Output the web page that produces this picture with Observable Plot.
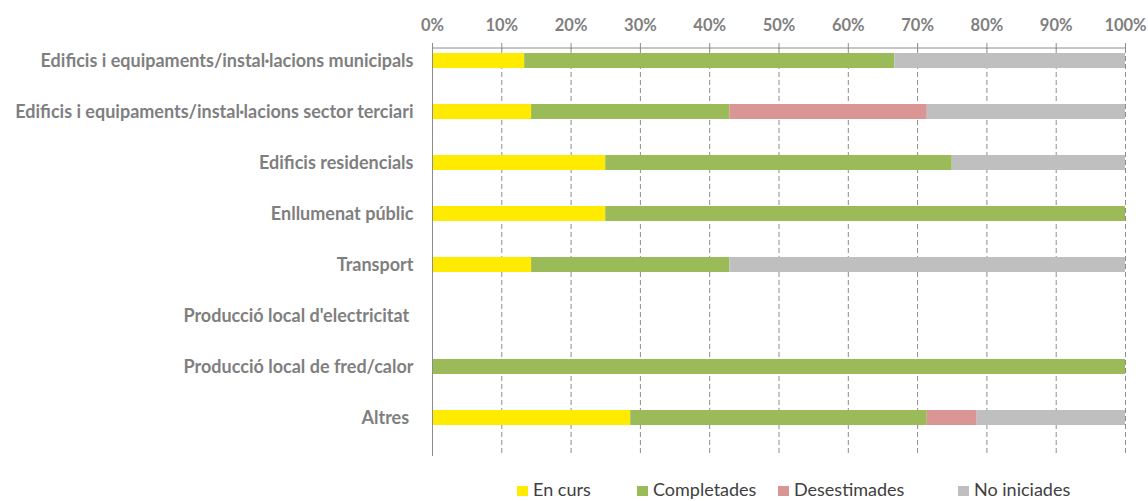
<!DOCTYPE html>
<html>
<head>
<meta charset="utf-8">
<script src="https://cdn.jsdelivr.net/npm/d3@7"></script>
<script src="https://cdn.jsdelivr.net/npm/@observablehq/plot@0.6"></script>
<style>
  html, body { margin: 0; padding: 0; background: #fff; width: 1148px; height: 501px; overflow: hidden; }
  #chart svg { display: block; }
  #legend { position: relative; height: 31px; font-family: Lato, "Open Sans", sans-serif; font-size: 18px; color: #404040; }
  #legend .item { position: absolute; top: 8px; display: flex; align-items: center; gap: 5px; white-space: nowrap; line-height: 22px; }
  #legend .sw { width: 11px; height: 10px; display: inline-block; margin-top: 3px; }
</style>
</head>
<body>
<div id="chart"></div>
<div id="legend"></div>
<script>
const categories = [
  "Edificis i equipaments/instal·lacions municipals",
  "Edificis i equipaments/instal·lacions sector terciari",
  "Edificis residencials",
  "Enllumenat públic",
  "Transport",
  "Producció local d'electricitat ",
  "Producció local de fred/calor",
  "Altres "
];
const statuses = ["En curs", "Completades", "Desestimades", "No iniciades"];
const colors = ["#FFEB00", "#9BBB59", "#D99694", "#BFBFBF"];
// shares per category, in status order
const enCurs      = [0.133, 0.143, 0.25, 0.25, 0.143, 0, 0, 0.286];
const completades = [0.534, 0.286, 0.50, 0.75, 0.286, 0, 1, 0.428];
const desestimades= [0,     0.285, 0,    0,    0,     0, 0, 0.072];
const noIniciades = [0.333, 0.286, 0.25, 0,    0.571, 0, 0, 0.214];
const xTicks = [0, 0.1, 0.2, 0.3, 0.4, 0.5, 0.6, 0.7, 0.8, 0.9, 1];

const series = [enCurs, completades, desestimades, noIniciades];
const data = [];
categories.forEach((c, i) => {
  statuses.forEach((s, j) => data.push({cat: c, status: s, value: series[j][i]}));
});

const grey = "#7F7F7F";
const font = "Lato, 'Open Sans', sans-serif";

const W = 1148, H = 470, mT = 48, mB = 14;
// bars sit slightly above the middle of each band, as in the reference
const bandShift = 12.5;

const topLine = (index, scales, values, dimensions) => {
  const g = document.createElementNS("http://www.w3.org/2000/svg", "line");
  g.setAttribute("x1", scales.x(0));
  g.setAttribute("x2", scales.x(1));
  g.setAttribute("y1", dimensions.marginTop);
  g.setAttribute("y2", dimensions.marginTop);
  g.setAttribute("stroke", "#8c8c8c");
  g.setAttribute("stroke-width", 1);
  return g;
};

const plot = Plot.plot({
  width: W,
  height: H,
  marginLeft: 432,
  marginRight: 23,
  marginTop: mT,
  marginBottom: mB,
  style: {fontFamily: font, background: "#fff"},
  x: {domain: [0, 1]},
  y: {domain: categories, paddingInner: 0.705, paddingOuter: 0.3525, range: [mT - bandShift, H - mB - bandShift]},
  color: {domain: statuses, range: colors},
  marks: [
    Plot.gridX(xTicks.slice(1), {stroke: "#8c8c8c", strokeOpacity: 1, strokeDasharray: "5,3"}),
    Plot.barX(data, Plot.stackX({x: "value", y: "cat", fill: "status", order: statuses})),
    Plot.ruleX([0], {stroke: "#8c8c8c"}),
    topLine,
    Plot.axisX(xTicks, {anchor: "top", tickSize: 6, tickPadding: 12, stroke: "#8c8c8c", tickFormat: d3.format(".0%"), fill: grey, fontSize: 16.5, fontWeight: "bold", label: null}),
    Plot.axisY({tickSize: 0, tickPadding: 19, fill: grey, fontSize: 18, fontWeight: "bold", label: null, tickFormat: d => d.replace(/ $/, "\u00a0")})
  ]
});
document.getElementById("chart").appendChild(plot);

const legendLeft = [517, 637, 778, 958];
const legend = document.getElementById("legend");
statuses.forEach((s, i) => {
  const it = document.createElement("div");
  it.className = "item";
  it.style.left = legendLeft[i] + "px";
  it.innerHTML = `<span class="sw" style="background:${colors[i]}"></span><span>${s}</span>`;
  legend.appendChild(it);
});
</script>
</body>
</html>
